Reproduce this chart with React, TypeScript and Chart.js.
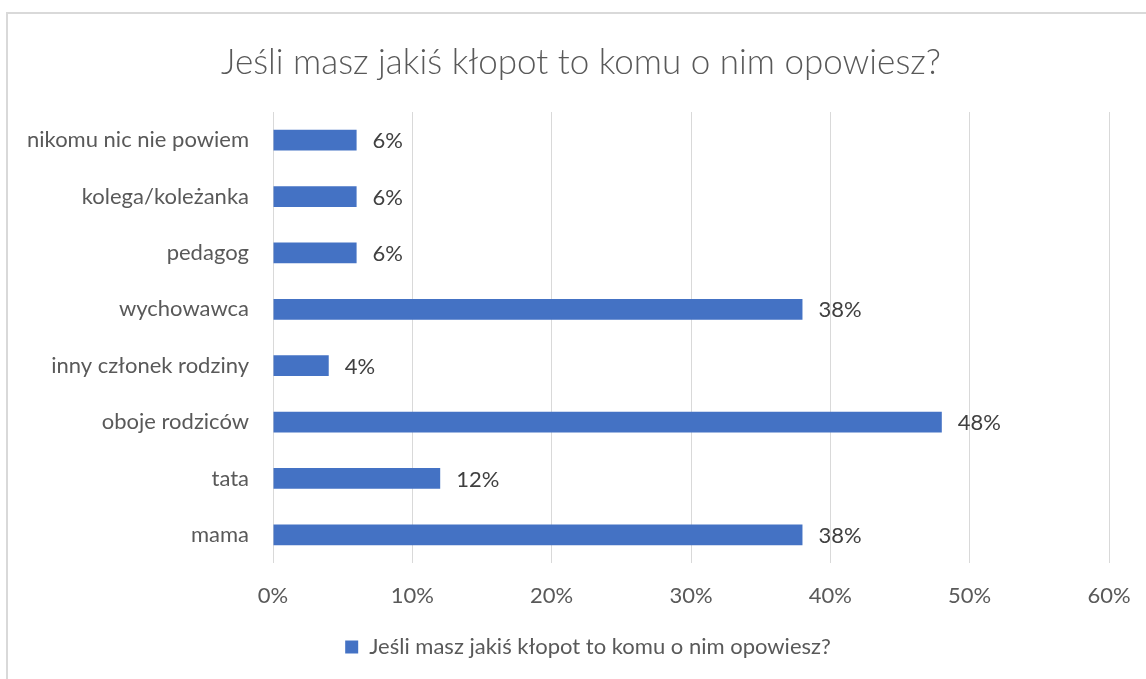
import React, { useEffect, useRef } from "react";
import { Chart, registerables } from "chart.js";

Chart.register(...registerables);

const categories = [
  "nikomu nic nie powiem",
  "kolega/koleżanka",
  "pedagog",
  "wychowawca",
  "inny członek rodziny",
  "oboje rodziców",
  "tata",
  "mama",
];
const values = [6, 6, 6, 38, 4, 48, 12, 38];
const xTickMin = 0;
const xTickMax = 60;
const xTickStep = 10;
const seriesName = "Jeśli masz jakiś kłopot to komu o nim opowiesz?";
const titleText = "Jeśli masz jakiś kłopot to komu o nim opowiesz?";

const FONT = "Lato, 'Open Sans', sans-serif";
const BAR = "#4472c4";

const dataLabels = {
  id: "dataLabels",
  afterDatasetsDraw(chart: any) {
    const ctx = chart.ctx;
    const meta = chart.getDatasetMeta(0);
    ctx.save();
    ctx.font = `22px ${FONT}`;
    ctx.fillStyle = "#404040";
    ctx.textAlign = "left";
    ctx.textBaseline = "middle";
    meta.data.forEach((el: any, i: number) => {
      ctx.fillText(values[i] + "%", el.x + 16, el.y + 1);
    });
    ctx.restore();
  },
};

// Centre the title and legend on the whole chart frame (which extends past the
// right edge of the picture) rather than on the padded layout box.
const recenter = {
  id: "recenter",
  afterLayout(chart: any) {
    const t = chart.titleBlock;
    if (t) {
      t.left = 0;
      t.right = 1146;
    }
    const l = chart.legend;
    if (l) {
      l.left = 0;
      l.right = 1160;
    }
  },
};

export default function App() {
  const ref = useRef<HTMLCanvasElement | null>(null);
  useEffect(() => {
    if (!ref.current) return;
    const chart = new Chart(ref.current, {
      type: "bar",
      data: {
        labels: categories,
        datasets: [
          {
            label: seriesName,
            data: values,
            backgroundColor: BAR,
            borderWidth: 0,
            categoryPercentage: 1,
            barPercentage: 0.37,
          },
        ],
      },
      options: {
        indexAxis: "y",
        responsive: false,
        animation: false,
        layout: { padding: { left: 0, right: 49, top: 0, bottom: 10 } },
        plugins: {
          title: {
            display: true,
            text: titleText,
            color: "#595959",
            font: { family: FONT, size: 35, weight: "300" },
            padding: { top: 28, bottom: 28 },
          },
          legend: {
            display: true,
            position: "bottom",
            labels: {
              color: "#595959",
              font: { family: FONT, size: 22 },
              boxWidth: 13,
              boxHeight: 13,
              padding: 10,
            },
          },
          tooltip: { enabled: false },
        },
        scales: {
          x: {
            min: xTickMin,
            max: xTickMax,
            ticks: {
              stepSize: xTickStep,
              color: "#595959",
              font: { family: FONT, size: 22 },
              padding: 20,
              callback: (v: any) => v + "%",
            },
            grid: { color: "#d9d9d9", drawTicks: false },
            border: { display: false },
            afterFit: (s: any) => {
              s.height = 63;
            },
          },
          y: {
            ticks: {
              color: "#595959",
              font: { family: FONT, size: 22 },
              padding: 24,
            },
            grid: { display: false, drawTicks: false },
            border: { display: false },
            afterFit: (s: any) => {
              s.width = 265;
            },
          },
        },
      },
      plugins: [dataLabels, recenter],
    });
    return () => chart.destroy();
  }, []);

  return (
    <div
      style={{
        position: "fixed",
        left: 6,
        top: 12,
        width: 1150,
        height: 670,
        border: "2px solid #d9d9d9",
        background: "#fff",
        overflow: "hidden",
      }}
    >
      <canvas ref={ref} width={1150} height={664} style={{ display: "block", width: 1150, height: 664 }} />
    </div>
  );
}
